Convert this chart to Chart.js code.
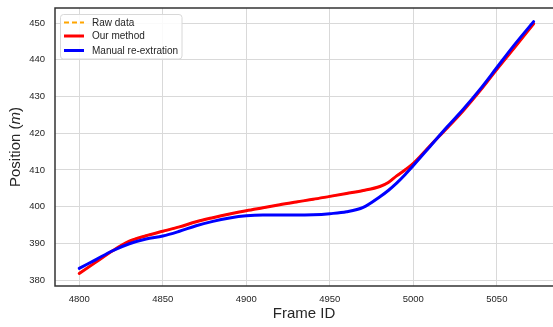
<!DOCTYPE html>
<html>
<head>
<meta charset="utf-8">
<script src="https://cdn.jsdelivr.net/npm/chart.js@4/dist/chart.umd.min.js"></script>
<style>
  html, body { margin: 0; padding: 0; background: #fff; }
  canvas { display: block; }
</style>
</head>
<body>
<canvas id="chart" width="553" height="327"></canvas>
<script>
// frame ids and position values
const frames = [4800, 4810, 4820, 4830, 4840, 4850, 4860, 4870, 4880, 4890, 4900, 4910, 4920, 4930, 4940,
  4950, 4960, 4970, 4980, 4985, 4990, 4995, 5000, 5010, 5020, 5030, 5040, 5050, 5060, 5072];

const ourMethod = [381.8, 384.9, 388.0, 390.6, 392.1, 393.3, 394.5, 395.9, 397.0, 398.0, 398.9, 399.7, 400.5, 401.3, 402.0,
  402.8, 403.6, 404.4, 405.5, 406.6, 408.4, 410.0, 411.8, 416.6, 421.3, 426.2, 431.6, 437.4, 443.0, 449.8];

// raw data sits underneath the red curve, hardly visible
const rawData = [381.8, 384.9, 388.0, 390.6, 392.1, 393.3, 394.5, 395.9, 397.0, 398.0, 398.9, 399.7, 400.5, 401.3, 402.0,
  402.8, 403.6, 404.4, 405.5, 406.6, 408.4, 410.0, 411.8, 416.6, 421.3, 426.2, 431.6, 437.4, 443.0, 449.8];

const manual = [383.2, 385.6, 388.0, 389.9, 391.2, 392.0, 393.3, 394.8, 396.0, 396.9, 397.5, 397.7, 397.7, 397.7, 397.8,
  398.1, 398.6, 399.8, 402.7, 404.4, 406.4, 408.7, 411.2, 416.4, 421.6, 426.6, 432.0, 437.9, 443.8, 450.4];

const xTicks = [4800, 4850, 4900, 4950, 5000, 5050];
const yTicks = [380, 390, 400, 410, 420, 430, 440, 450];

const TXT = "#262626";
const FONT = "'Liberation Sans', Arial, sans-serif";

function pts(ys){ return frames.map((f, i) => ({ x: f, y: ys[i] })); }

const frame = {
  id: "frame",
  afterDatasetsDraw(chart){
    const { ctx, chartArea: a } = chart;
    ctx.save();
    // spines
    ctx.strokeStyle = "#333";
    ctx.lineWidth = 1.5;
    ctx.beginPath();
    ctx.moveTo(553, a.top); ctx.lineTo(a.left, a.top);
    ctx.lineTo(a.left, a.bottom); ctx.lineTo(553, a.bottom);
    ctx.stroke();

    // legend box
    const bx = 60.5, by = 14.5, bw = 121.5, bh = 44.5, r = 3;
    ctx.beginPath();
    ctx.roundRect(bx, by, bw, bh, r);
    ctx.fillStyle = "rgba(255,255,255,0.85)";
    ctx.fill();
    ctx.strokeStyle = "#d8d8d8";
    ctx.lineWidth = 1;
    ctx.stroke();

    const rows = [22.5, 36, 50.5];
    const sets = chart.data.datasets;
    ctx.font = "10px " + FONT;
    ctx.textBaseline = "middle";
    ctx.textAlign = "left";
    sets.forEach((ds, i) => {
      ctx.beginPath();
      ctx.strokeStyle = ds.borderColor;
      ctx.lineWidth = ds.borderWidth;
      ctx.setLineDash(ds.borderDash || []);
      ctx.moveTo(64, rows[i]); ctx.lineTo(84, rows[i]);
      ctx.stroke();
      ctx.setLineDash([]);
      ctx.fillStyle = TXT;
      ctx.fillText(ds.label, 92, rows[i] + 0.5);
    });

    // axis titles
    ctx.fillStyle = TXT;
    ctx.font = "15px " + FONT;
    ctx.textAlign = "center";
    ctx.fillText("Frame ID", (a.left + a.right) / 2, 314);

    ctx.translate(15.5, (a.top + a.bottom) / 2);
    ctx.rotate(-Math.PI / 2);
    const p1 = "Position (", p2 = "m", p3 = ")";
    ctx.font = "15px " + FONT;
    const w1 = ctx.measureText(p1).width, w3 = ctx.measureText(p3).width;
    ctx.font = "italic 15px " + FONT;
    const w2 = ctx.measureText(p2).width;
    let x = -(w1 + w2 + w3) / 2;
    ctx.textAlign = "left";
    ctx.font = "15px " + FONT;
    ctx.fillText(p1, x, 0); x += w1;
    ctx.font = "italic 15px " + FONT;
    ctx.fillText(p2, x, 0); x += w2;
    ctx.font = "15px " + FONT;
    ctx.fillText(p3, x, 0);
    ctx.restore();
  }
};

new Chart(document.getElementById("chart"), {
  type: "line",
  data: {
    datasets: [
      { label: "Raw data", data: pts(rawData), borderColor: "#ffa500", borderWidth: 2, borderDash: [5, 3], order: 3 },
      { label: "Our method", data: pts(ourMethod), borderColor: "#ff0000", borderWidth: 3, order: 2 },
      { label: "Manual re-extration", data: pts(manual), borderColor: "#0000ff", borderWidth: 3, order: 1 }
    ]
  },
  options: {
    responsive: false,
    animation: false,
    devicePixelRatio: 1,
    layout: { padding: { left: 0, top: 8, right: 0, bottom: 0 } },
    elements: {
      point: { radius: 0 },
      line: { cubicInterpolationMode: "monotone", fill: false, borderCapStyle: "round" }
    },
    plugins: { legend: { display: false }, tooltip: { enabled: false } },
    scales: {
      x: {
        type: "linear",
        min: 4785.5,
        max: 5083.6,
        afterFit: s => { s.height = 41; s.paddingLeft = 0; s.paddingRight = 0; },
        afterBuildTicks: s => { s.ticks = xTicks.map(v => ({ value: v })); },
        grid: { color: "#d9d9d9", lineWidth: 1, drawTicks: false },
        border: { display: false },
        ticks: { color: TXT, font: { size: 9.5, family: FONT }, padding: 8, maxRotation: 0, callback: v => String(v) }
      },
      y: {
        min: 378.4,
        max: 454.1,
        afterFit: s => { s.width = 55; s.paddingTop = 0; s.paddingBottom = 0; },
        afterBuildTicks: s => { s.ticks = yTicks.map(v => ({ value: v })); },
        grid: { color: "#d9d9d9", lineWidth: 1, drawTicks: false },
        border: { display: false },
        ticks: { color: TXT, font: { size: 9.5, family: FONT }, padding: 10, callback: v => String(v) }
      }
    }
  },
  plugins: [frame]
});
</script>
</body>
</html>
